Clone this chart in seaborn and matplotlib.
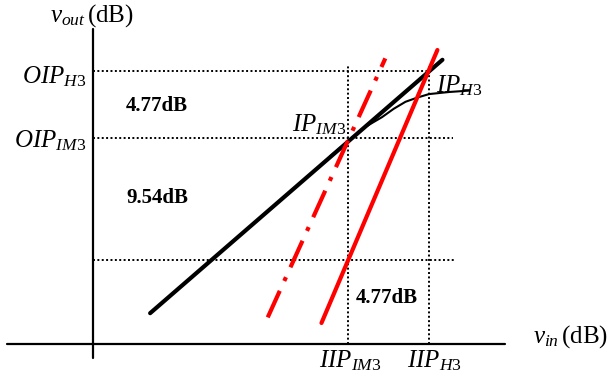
import numpy as np
import pandas as pd
import seaborn as sns
import matplotlib
matplotlib.use('Agg')
import matplotlib.pyplot as plt

# levels (dB, relative to the axis origin)
iip_im3 = 15.2
iip_h3 = 20.0
oip_im3 = 14.7
oip_h3 = 19.5
low_level = 6.0
guide_top = 19.9

# fundamental (slope ~1)
fund_x = [3.4, 20.8]
fund_y = [2.2, 20.3]

# third harmonic (solid red)
h3_x = [13.6, 20.5]
h3_y = [1.5, 21.0]

# third-order intermod (dash-dot red)
im3_x = [10.4, 17.4]
im3_y = [1.9, 20.4]

# compressed real output
comp_x = [14.1, 15.3, 16.2, 17.2, 17.9, 18.6, 19.3, 20.0, 21.2, 22.4]
comp_y = [13.4, 14.6, 15.5, 16.2, 16.8, 17.3, 17.6, 17.85, 18.0, 18.1]

# axis line extents
xaxis_span = [-5.1, 24.5]
yaxis_span = [-1.0, 22.5]

sns.set_theme(style='white')
plt.rcParams['font.family'] = ['Liberation Serif', 'DejaVu Serif']
plt.rcParams['mathtext.fontset'] = 'custom'
plt.rcParams['mathtext.rm'] = 'Liberation Serif'
plt.rcParams['mathtext.it'] = 'Liberation Serif:italic'
plt.rcParams['mathtext.bf'] = 'Liberation Serif:bold'

fig = plt.figure(figsize=(6.1, 3.83), dpi=100)
ax = fig.add_axes([0, 0, 1, 1])
ax.set_xlim(-5.536, 30.774)
ax.set_ylim(-2.786, 24.571)
ax.axis('off')

# axes
ax.plot(xaxis_span, [0, 0], color='black', lw=1.6)
ax.plot([0, 0], yaxis_span, color='black', lw=1.6)

# dotted guides
dot = dict(color='black', lw=1.4, linestyle=(0, (1, 1.25)))
ax.plot([0, iip_h3], [oip_h3, oip_h3], **dot)
ax.plot([0, 21.4], [oip_im3, oip_im3], **dot)
ax.plot([0, 21.5], [low_level, low_level], **dot)
ax.plot([iip_im3, iip_im3], [0, guide_top], **dot)
ax.plot([iip_h3, iip_h3], [0, guide_top], **dot)

fund = pd.DataFrame({'x': fund_x, 'y': fund_y})
h3 = pd.DataFrame({'x': h3_x, 'y': h3_y})
im3 = pd.DataFrame({'x': im3_x, 'y': im3_y})
comp = pd.DataFrame({'x': comp_x, 'y': comp_y})

sns.lineplot(data=comp, x='x', y='y', ax=ax, color='black', lw=1.5)
sns.lineplot(data=fund, x='x', y='y', ax=ax, color='black', lw=3.0)
sns.lineplot(data=h3, x='x', y='y', ax=ax, color='red', lw=3.0)
sns.lineplot(data=im3, x='x', y='y', ax=ax, color='red', lw=3.0,
             linestyle=(0, (7, 2.6, 1, 2.6)))

lab = dict(fontsize=18, color='black')
ax.text(-2.56, 23.0, r'$v_{out}\,$(dB)', ha='left', va='baseline', **lab)
ax.text(-0.42, oip_h3 - 0.86, r'$OIP_{\mathit{H3}}$', ha='right', va='baseline', **lab)
ax.text(-0.42, oip_im3 - 0.63, r'$OIP_{\mathit{IM3}}$', ha='right', va='baseline', **lab)
ax.text(11.85, 15.21, r'$IP_{\mathit{IM3}}$', ha='left', va='baseline', **lab)
ax.text(20.42, 18.0, r'$IP_{\mathit{H3}}$', ha='left', va='baseline', **lab)
ax.text(iip_im3 + 0.1, -1.64, r'$IIP_{\mathit{IM3}}$', ha='center', va='baseline', **lab)
ax.text(iip_h3 + 0.3, -1.64, r'$IIP_{\mathit{H3}}$', ha='center', va='baseline', **lab)
ax.text(26.19, 0.07, r'$v_{in}\,$(dB)', ha='left', va='baseline', **lab)

db = dict(fontsize=15, fontweight='bold', color='black', ha='left', va='baseline')
ax.text(1.96, 16.64, '4.77dB', **db)
ax.text(1.96, 10.07, '9.54dB', **db)
ax.text(15.65, 2.93, '4.77dB', **db)

fig.savefig('out.png', dpi=100)
